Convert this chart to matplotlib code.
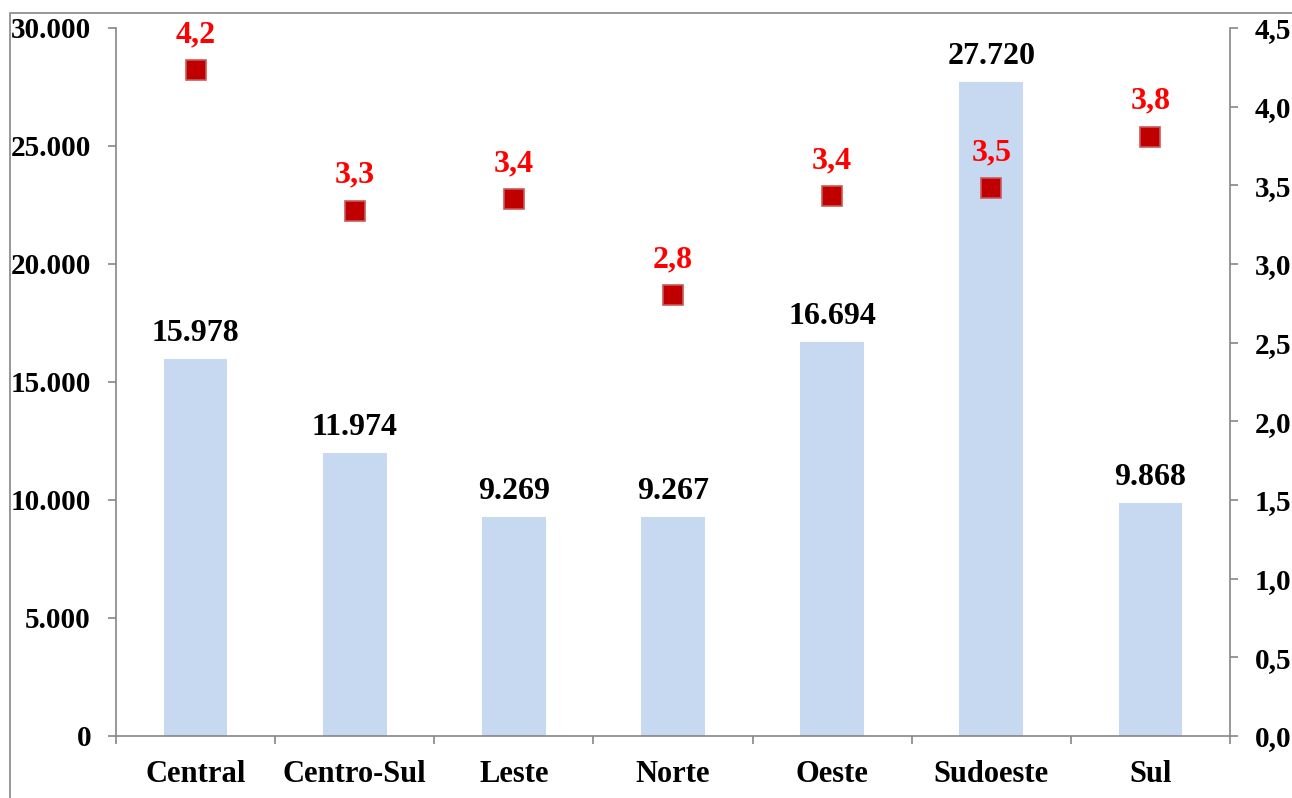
import matplotlib.pyplot as plt
from matplotlib.patches import Rectangle
from matplotlib.ticker import FuncFormatter

regions = ["Central", "Centro-Sul", "Leste", "Norte", "Oeste", "Sudoeste", "Sul"]
bar_values = [15978, 11974, 9269, 9267, 16694, 27720, 9868]
marker_values = [4.23, 3.34, 3.41, 2.80, 3.43, 3.48, 3.81]
marker_labels = ["4,2", "3,3", "3,4", "2,8", "3,4", "3,5", "3,8"]

GRAY = "#868686"
plt.rcParams["font.family"] = ["Liberation Serif", "DejaVu Serif"]
plt.rcParams["font.weight"] = "bold"


def thousands(v, _pos):
    return f"{int(v):,}".replace(",", ".")


def decimal_comma(v, _pos):
    return f"{v:.1f}".replace(".", ",")


fig = plt.figure(figsize=(12.92, 7.98), dpi=100)
ax = fig.add_axes([116 / 1292, 1 - 736 / 798, 1114 / 1292, 708 / 798])
ax2 = ax.twinx()

x = list(range(len(regions)))
ax.bar(x, bar_values, width=0.4, color="#C6D9F0", zorder=1)
for xi, v in zip(x, bar_values):
    ax.annotate(thousands(v, None), (xi, v), xytext=(0, 13), textcoords="offset points",
                ha="center", va="baseline", fontsize=23, fontweight="bold", color="black")

ax2.plot(x, marker_values, linestyle="none", marker="s", markersize=15,
         markerfacecolor="#C00000", markeredgecolor="#C85A5A", markeredgewidth=1.2, zorder=3)
for xi, v, lab in zip(x, marker_values, marker_labels):
    ax2.annotate(lab, (xi, v), xytext=(0, 20), textcoords="offset points",
                 ha="center", va="baseline", fontsize=23, fontweight="bold", color="#FF0000")

ax.set_xlim(-0.5, len(regions) - 0.5)
ax.set_ylim(0, 30000)
ax.set_yticks(range(0, 30001, 5000))
ax.yaxis.set_major_formatter(FuncFormatter(thousands))
ax2.set_ylim(0, 4.5)
ax2.set_yticks([i * 0.5 for i in range(10)])
ax2.yaxis.set_major_formatter(FuncFormatter(decimal_comma))

ax.set_xticks(x)
ax.set_xticklabels(regions, fontsize=22, fontweight="bold")
ax.set_xticks([i - 0.5 for i in range(len(regions) + 1)], minor=True)
ax.tick_params(axis="x", which="major", length=0, pad=17)
ax.tick_params(axis="x", which="minor", length=6, width=1.2, color=GRAY, direction="out")
ax.tick_params(axis="y", length=6, width=1.2, color=GRAY, labelsize=21, pad=12)
ax2.tick_params(axis="y", length=6, width=1.2, color=GRAY, labelsize=21, pad=12)
for lab in ax.get_yticklabels() + ax2.get_yticklabels():
    lab.set_fontweight("bold")

for a in (ax, ax2):
    a.spines["top"].set_visible(False)
    for s in ("left", "right", "bottom"):
        a.spines[s].set_color(GRAY)
        a.spines[s].set_linewidth(1.2)
ax2.spines["left"].set_visible(False)
ax2.spines["bottom"].set_visible(False)
ax.spines["right"].set_visible(False)

# outer chart border
fig.add_artist(Rectangle((10 / 1292, -0.1), 1.2, 1.1 - 13 / 798, transform=fig.transFigure,
                         fill=False, edgecolor=GRAY, linewidth=1.2, clip_on=False))

fig.savefig("out.png", dpi=100)
